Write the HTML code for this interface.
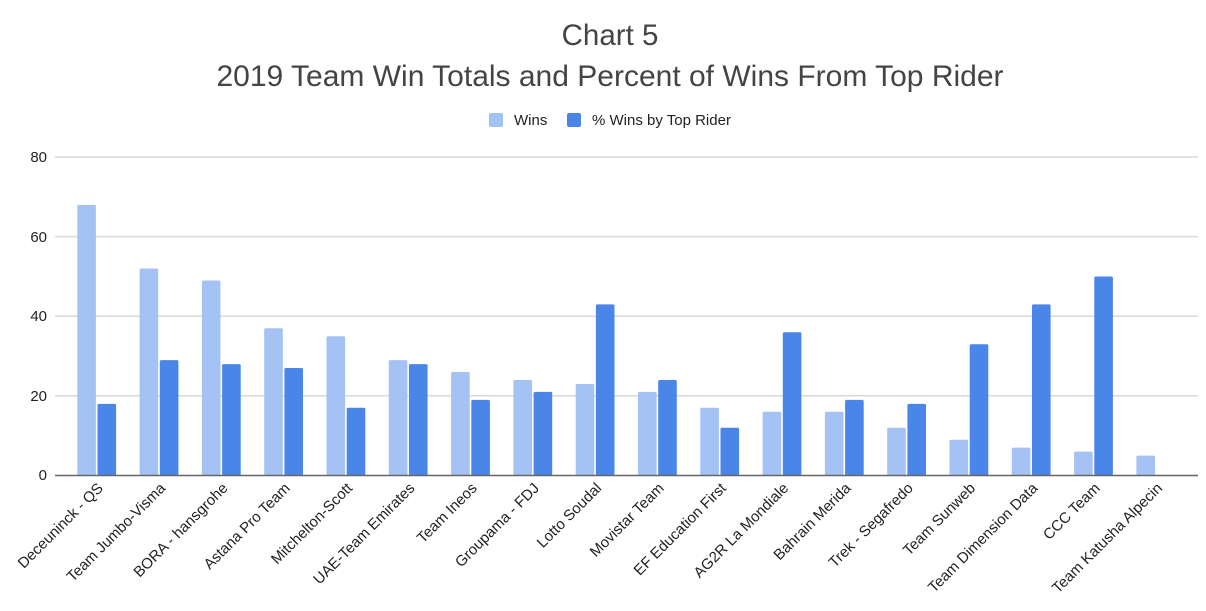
<!DOCTYPE html>
<html><head><style>body{margin:0;background:#fff}svg{display:block}</style></head><body>
<svg width="1206" height="611" xmlns="http://www.w3.org/2000/svg" font-family="Liberation Sans, sans-serif">
<text x="610" y="45" text-anchor="middle" font-size="29.5" fill="#444">Chart 5</text>
<text x="610" y="86" text-anchor="middle" font-size="30" fill="#444">2019 Team Win Totals and Percent of Wins From Top Rider</text>
<rect x="489" y="113" width="14" height="14" rx="2" fill="#a4c2f4"/>
<text x="514" y="125" font-size="15" fill="#222">Wins</text>
<rect x="567" y="113" width="14" height="14" rx="2" fill="#4a86e8"/>
<text x="592" y="125" font-size="15" fill="#222">% Wins by Top Rider</text>
<g stroke="#d9d9d9" stroke-width="1.5">
<line x1="55" x2="1198" y1="157" y2="157"/><line x1="55" x2="1198" y1="236.6" y2="236.6"/><line x1="55" x2="1198" y1="316.2" y2="316.2"/><line x1="55" x2="1198" y1="395.8" y2="395.8"/>
</g>
<g font-size="15" fill="#222" text-anchor="end">
<text x="47" y="162">80</text><text x="47" y="242">60</text><text x="47" y="321">40</text><text x="47" y="401">20</text><text x="47" y="480">0</text>
</g>
<g fill="#a4c2f4">
<rect x="77.3" y="204.9" width="18.6" height="270.6" rx="1.5"/>
<rect x="139.6" y="268.5" width="18.6" height="207" rx="1.5"/>
<rect x="201.9" y="280.5" width="18.6" height="195" rx="1.5"/>
<rect x="264.2" y="328.2" width="18.6" height="147.3" rx="1.5"/>
<rect x="326.5" y="336.2" width="18.6" height="139.3" rx="1.5"/>
<rect x="388.8" y="360.1" width="18.6" height="115.4" rx="1.5"/>
<rect x="451.1" y="372" width="18.6" height="103.5" rx="1.5"/>
<rect x="513.4" y="380" width="18.6" height="95.5" rx="1.5"/>
<rect x="575.7" y="384" width="18.6" height="91.5" rx="1.5"/>
<rect x="638" y="391.9" width="18.6" height="83.6" rx="1.5"/>
<rect x="700.3" y="407.8" width="18.6" height="67.7" rx="1.5"/>
<rect x="762.6" y="411.8" width="18.6" height="63.7" rx="1.5"/>
<rect x="824.9" y="411.8" width="18.6" height="63.7" rx="1.5"/>
<rect x="887.2" y="427.7" width="18.6" height="47.8" rx="1.5"/>
<rect x="949.5" y="439.7" width="18.6" height="35.8" rx="1.5"/>
<rect x="1011.8" y="447.6" width="18.6" height="27.9" rx="1.5"/>
<rect x="1074.1" y="451.6" width="18.6" height="23.9" rx="1.5"/>
<rect x="1136.4" y="455.6" width="18.6" height="19.9" rx="1.5"/>
</g>
<g fill="#4a86e8">
<rect x="97.5" y="403.9" width="18.6" height="71.6" rx="1.5"/>
<rect x="159.8" y="360.1" width="18.6" height="115.4" rx="1.5"/>
<rect x="222.1" y="364.1" width="18.6" height="111.4" rx="1.5"/>
<rect x="284.4" y="368" width="18.6" height="107.5" rx="1.5"/>
<rect x="346.7" y="407.8" width="18.6" height="67.7" rx="1.5"/>
<rect x="409" y="364.1" width="18.6" height="111.4" rx="1.5"/>
<rect x="471.3" y="399.9" width="18.6" height="75.6" rx="1.5"/>
<rect x="533.6" y="391.9" width="18.6" height="83.6" rx="1.5"/>
<rect x="595.9" y="304.4" width="18.6" height="171.1" rx="1.5"/>
<rect x="658.2" y="380" width="18.6" height="95.5" rx="1.5"/>
<rect x="720.5" y="427.7" width="18.6" height="47.8" rx="1.5"/>
<rect x="782.8" y="332.2" width="18.6" height="143.3" rx="1.5"/>
<rect x="845.1" y="399.9" width="18.6" height="75.6" rx="1.5"/>
<rect x="907.4" y="403.9" width="18.6" height="71.6" rx="1.5"/>
<rect x="969.7" y="344.2" width="18.6" height="131.3" rx="1.5"/>
<rect x="1032" y="304.4" width="18.6" height="171.1" rx="1.5"/>
<rect x="1094.3" y="276.5" width="18.6" height="199" rx="1.5"/>
</g>
<line x1="55" x2="1198" y1="475.5" y2="475.5" stroke="#666" stroke-width="1.5"/>
<g font-size="15" fill="#222" text-anchor="end">
<text x="104" y="489" transform="rotate(-45 104 489)">Deceuninck - QS</text>
<text x="166.3" y="489" transform="rotate(-45 166.3 489)">Team Jumbo-Visma</text>
<text x="228.6" y="489" transform="rotate(-45 228.6 489)">BORA - hansgrohe</text>
<text x="290.9" y="489" transform="rotate(-45 290.9 489)">Astana Pro Team</text>
<text x="353.2" y="489" transform="rotate(-45 353.2 489)">Mitchelton-Scott</text>
<text x="415.5" y="489" transform="rotate(-45 415.5 489)">UAE-Team Emirates</text>
<text x="477.8" y="489" transform="rotate(-45 477.8 489)">Team Ineos</text>
<text x="540.1" y="489" transform="rotate(-45 540.1 489)">Groupama - FDJ</text>
<text x="602.4" y="489" transform="rotate(-45 602.4 489)">Lotto Soudal</text>
<text x="664.7" y="489" transform="rotate(-45 664.7 489)">Movistar Team</text>
<text x="727" y="489" transform="rotate(-45 727 489)">EF Education First</text>
<text x="789.3" y="489" transform="rotate(-45 789.3 489)">AG2R La Mondiale</text>
<text x="851.6" y="489" transform="rotate(-45 851.6 489)">Bahrain Merida</text>
<text x="913.9" y="489" transform="rotate(-45 913.9 489)">Trek - Segafredo</text>
<text x="976.2" y="489" transform="rotate(-45 976.2 489)">Team Sunweb</text>
<text x="1038.5" y="489" transform="rotate(-45 1038.5 489)">Team Dimension Data</text>
<text x="1100.8" y="489" transform="rotate(-45 1100.8 489)">CCC Team</text>
<text x="1163.1" y="489" transform="rotate(-45 1163.1 489)">Team Katusha Alpecin</text>
</g>
</svg>
</body></html>
